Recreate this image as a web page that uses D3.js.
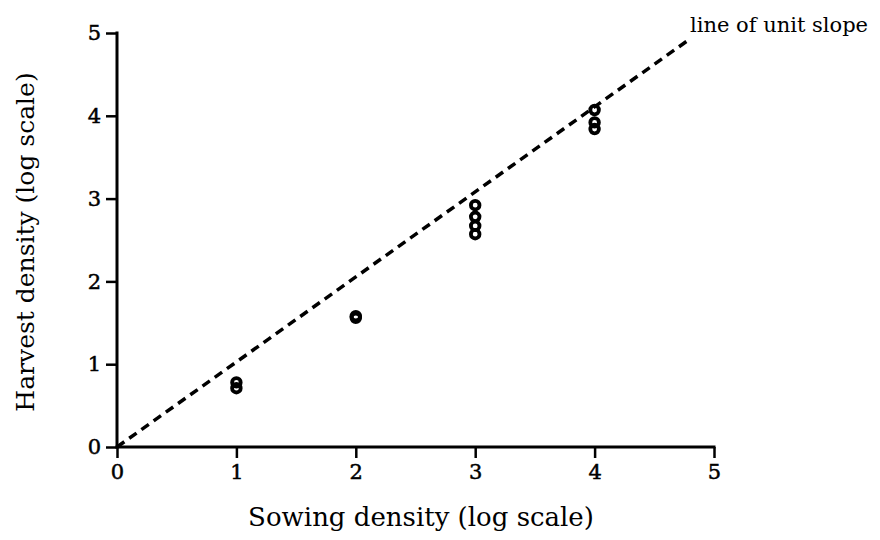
<!DOCTYPE html>
<html>
<head>
<meta charset="utf-8">
<script src="https://cdn.jsdelivr.net/npm/d3@7"></script>
<style>
  html, body { margin: 0; padding: 0; background: #fff; }
  svg { display: block; }
</style>
</head>
<body>
<svg id="chart" width="880" height="540"></svg>
<script>
// Data (log sowing density vs log harvest density)
const sowing  = [1, 1, 2, 2, 3, 3, 3, 3, 4, 4, 4];
const harvest = [0.78, 0.71, 1.58, 1.56, 2.92, 2.78, 2.67, 2.57, 4.07, 3.92, 3.84];
const xTicks = [0, 1, 2, 3, 4, 5];
const yTicks = [0, 1, 2, 3, 4, 5];
const unitLineX = [0, 4.8];
const unitLineY = [0, 4.93];
const labels = {
  x: "Sowing density (log scale)",
  y: "Harvest density (log scale)",
  line: "line of unit slope"
};

const svg = d3.select("#chart");
const x = d3.scaleLinear().domain([0, 5]).range([117, 714]);
const y = d3.scaleLinear().domain([0, 5]).range([447, 33]);

// axes
const xAxis = svg.append("g")
  .attr("transform", `translate(0,${y(0)})`)
  .call(d3.axisBottom(x).tickValues(xTicks).tickFormat(d3.format("d")).tickSizeOuter(0).tickSize(11).tickPadding(6));
const yAxis = svg.append("g")
  .attr("transform", `translate(${x(0)},0)`)
  .call(d3.axisLeft(y).tickValues(yTicks).tickFormat(d3.format("d")).tickSizeOuter(0).tickSize(11).tickPadding(5));
[xAxis, yAxis].forEach(g => {
  g.attr("font-family", "DejaVu Serif, serif").attr("font-size", 21);
  g.selectAll(".tick text")
    .style("font-family", "'DejaVu Serif', serif")
    .style("font-size", "21px")
    .style("fill", "#000")
    .style("stroke", "#000")
    .style("stroke-width", "0.5px");
  g.select(".domain").attr("stroke", "#000").attr("stroke-width", 3);
  g.selectAll(".tick line").attr("stroke", "#000").attr("stroke-width", 2.5);
});
xAxis.select(".domain").attr("d", `M${x(0) - 1.5},0H${x(5) + 1.5}`);
yAxis.select(".domain").attr("d", `M0,${y(5) - 1.5}V${y(0) + 1.5}`);

// line of unit slope
const line = d3.line().x(d => x(d[0])).y(d => y(d[1]));
svg.append("path")
  .datum(d3.zip(unitLineX, unitLineY))
  .attr("d", line)
  .attr("fill", "none")
  .attr("stroke", "#000")
  .attr("stroke-width", 3.5)
  .attr("stroke-dasharray", "9,6");

// points
svg.append("g").selectAll("circle")
  .data(d3.zip(sowing, harvest))
  .join("circle")
  .attr("cx", d => x(d[0]))
  .attr("cy", d => y(d[1]))
  .attr("r", 4.3)
  .attr("fill", "none")
  .attr("stroke", "#000")
  .attr("stroke-width", 3.8);

// labels
svg.append("text")
  .attr("x", 421).attr("y", 526)
  .attr("text-anchor", "middle")
  .attr("font-family", "DejaVu Serif, serif")
  .attr("font-size", 26)
  .text(labels.x);
svg.append("text")
  .attr("transform", "translate(34,242) rotate(-90)")
  .attr("text-anchor", "middle")
  .attr("font-family", "DejaVu Serif, serif")
  .attr("font-size", 25)
  .text(labels.y);
svg.append("text")
  .attr("x", 690).attr("y", 32)
  .attr("font-family", "DejaVu Serif, serif")
  .attr("font-size", 21)
  .text(labels.line);
</script>
</body>
</html>
